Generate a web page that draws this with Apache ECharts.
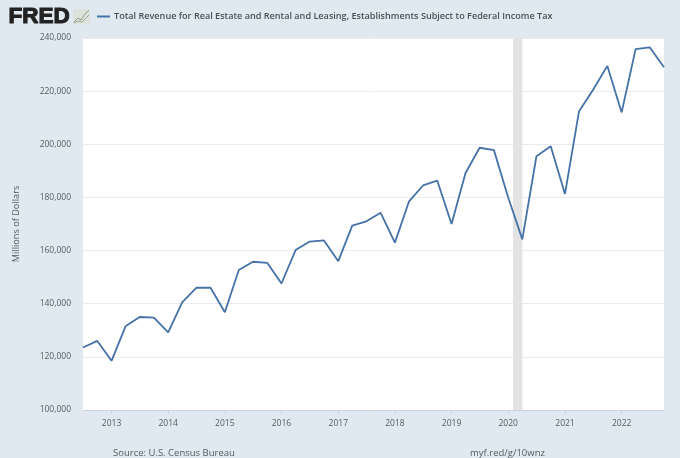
<!DOCTYPE html>
<html>
<head>
<meta charset="utf-8">
<style>html,body{margin:0;padding:0;background:#e1e9f0}#c{width:680px;height:458px}</style>
<script src="https://cdn.jsdelivr.net/npm/echarts@6/dist/echarts.min.js"></script>
</head>
<body>
<div id="c"></div>
<script>
const seriesName = 'Total Revenue for Real Estate and Rental and Leasing, Establishments Subject to Federal Income Tax';
const quarters = [
 '2012-07-01','2012-10-01',
 '2013-01-01','2013-04-01','2013-07-01','2013-10-01',
 '2014-01-01','2014-04-01','2014-07-01','2014-10-01',
 '2015-01-01','2015-04-01','2015-07-01','2015-10-01',
 '2016-01-01','2016-04-01','2016-07-01','2016-10-01',
 '2017-01-01','2017-04-01','2017-07-01','2017-10-01',
 '2018-01-01','2018-04-01','2018-07-01','2018-10-01',
 '2019-01-01','2019-04-01','2019-07-01','2019-10-01',
 '2020-01-01','2020-04-01','2020-07-01','2020-10-01',
 '2021-01-01','2021-04-01','2021-07-01','2021-10-01',
 '2022-01-01','2022-04-01','2022-07-01','2022-10-01'];
const revenue = [
 123500,126000,
 118500,131500,135000,134800,
 129200,140500,146000,146000,
 136800,152700,155800,155400,
 147600,160200,163400,163800,
 156000,169400,171000,174200,
 163000,178400,184500,186300,
 170000,189200,198700,197800,
 180000,164200,195500,199300,
 181300,212300,220500,229500,
 212000,235800,236500,229000];
const recession = ['2020-02-01','2020-04-01'];
const source = 'Source: U.S. Census Bureau';
const link = 'myf.red/g/10wnz';
const ms = s => new Date(s + 'T00:00:00Z').getTime();

const font = '"Open Sans", "Noto Sans", sans-serif';
const chart = echarts.init(document.getElementById('c'), null, {renderer: 'canvas', useUTC: true});
chart.setOption({
  useUTC: true,
  animation: false,
  backgroundColor: '#e1e9f0',
  textStyle: {fontFamily: font},
  grid: {left: 83, right: 16, top: 38, bottom: 48, containLabel: false, outerBoundsMode: 'none', backgroundColor: '#ffffff', show: true, borderWidth: 0},
  legend: {
    show: true, left: 97, top: 12, padding: 0, itemWidth: 13, itemHeight: 2, itemGap: 4, icon: 'rect', selectedMode: false,
    textStyle: {fontFamily: font, fontSize: 9.1, fontWeight: 600, color: '#4a4f57', padding: [0, 0, 0, -1]}
  },
  xAxis: {
    type: 'time',
    min: ms(quarters[0]),
    max: ms(quarters[quarters.length - 1]),
    splitNumber: 10,
    splitLine: {show: false},
    axisLine: {show: true, lineStyle: {color: '#c6d3e3', width: 1}},
    axisTick: {show: true, length: 4, lineStyle: {color: '#c6d3e3'}},
    axisLabel: {
      color: '#555b63', fontSize: 8.5, margin: 9,
      showMinLabel: false, showMaxLabel: false,
      hideOverlap: false,
      formatter: v => String(new Date(v).getUTCFullYear())
    }
  },
  yAxis: {
    type: 'value', min: 100000, max: 240000, interval: 20000,
    name: 'Millions of Dollars', nameLocation: 'middle', nameGap: 62,
    nameTextStyle: {color: '#555b63', fontSize: 9.2, fontFamily: font},
    axisLine: {show: false},
    axisTick: {show: true, length: 2, lineStyle: {color: '#e6e9ee'}},
    splitLine: {show: true, lineStyle: {color: '#eaeaee', width: 1}},
    axisLabel: {
      color: '#555b63', fontSize: 8.5, margin: 12, padding: [3, 0, 0, 0],
      formatter: v => v.toLocaleString('en-US')
    }
  },
  series: [{
    name: seriesName,
    type: 'line',
    data: quarters.map((q, i) => [ms(q), revenue[i]]),
    showSymbol: false,
    lineStyle: {color: '#4572a7', width: 1.8},
    itemStyle: {color: '#4572a7'},
    clip: true,
    z: 5,
    markArea: {
      silent: true,
      itemStyle: {color: '#e3e3e3', opacity: 1},
      label: {show: false},
      data: [[{xAxis: ms(recession[0])}, {xAxis: ms(recession[1])}]]
    }
  }],
  graphic: [
    {type: 'text', left: 8, top: 5, style: {text: 'FRED', fontFamily: '"Liberation Sans", Arial, sans-serif', fontWeight: 'bold', fontSize: 22.5, fill: '#222222', stroke: '#222222', lineWidth: 1.1}},
    {type: 'rect', left: 73, top: 9, shape: {width: 17, height: 15}, style: {fill: '#dde3dc'}},
    {type: 'polyline', shape: {points: [[74, 22], [78, 18], [81, 20], [85, 14], [89, 10]]}, style: {stroke: '#8aa07a', fill: 'none', lineWidth: 1}},
    {type: 'polyline', shape: {points: [[74, 23], [78, 21], [82, 22], [86, 18], [89, 15]]}, style: {stroke: '#9aa8a0', fill: 'none', lineWidth: 1}},
    {type: 'text', left: 113, top: 448, style: {text: source, fontFamily: font, fontSize: 9.5, fill: '#555b63'}},
    {type: 'text', left: 470, top: 448, style: {text: link, fontFamily: font, fontSize: 9.5, fill: '#555b63'}}
  ]
});
</script>
</body>
</html>
